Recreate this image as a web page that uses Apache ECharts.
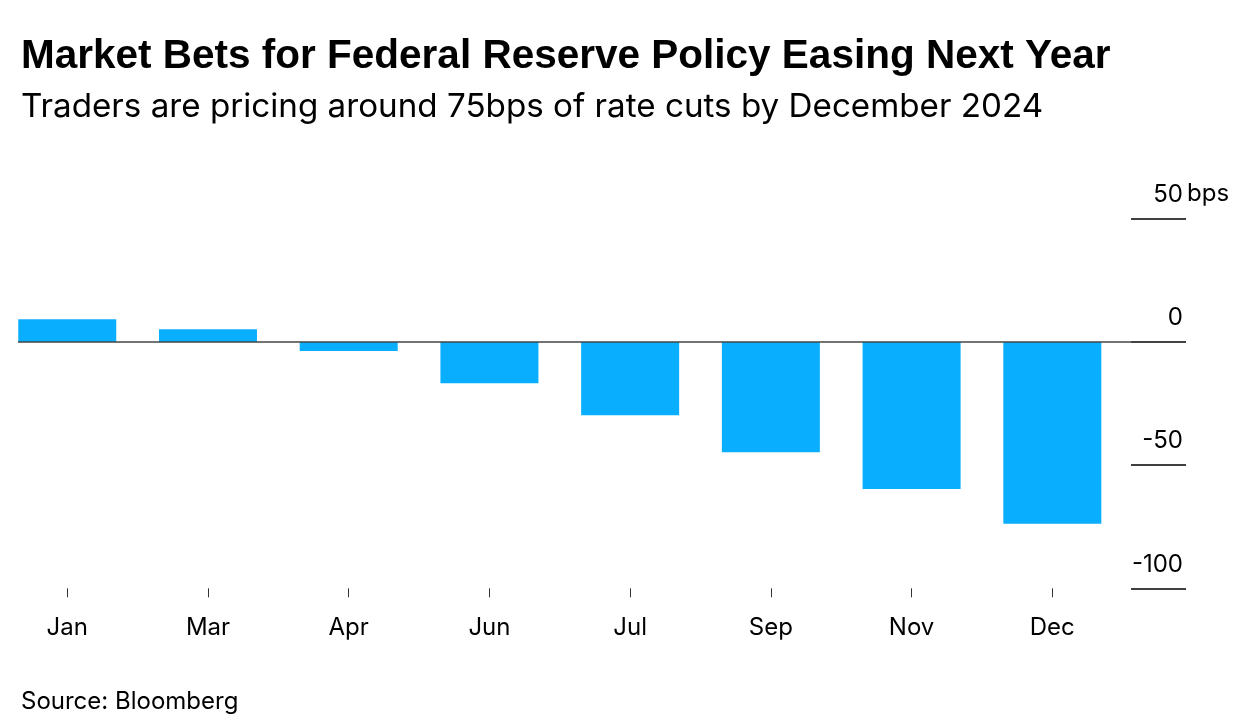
<!DOCTYPE html>
<html>
<head>
<meta charset="utf-8">
<script src="https://cdn.jsdelivr.net/npm/echarts@6/dist/echarts.min.js"></script>
<style>html,body{margin:0;padding:0;background:#fff}#c{width:1258px;height:720px}</style>
</head>
<body>
<div id="c"></div>
<script>
const categories = ['Jan', 'Mar', 'Apr', 'Jun', 'Jul', 'Sep', 'Nov', 'Dec'];
const values = [9.3, 5.2, -3.6, -16.7, -29.7, -44.7, -59.7, -73.8];
const yTicks = [-100, -50, 0, 50];

const TFONT = '"Liberation Sans", Arial, sans-serif';
const FONT = 'Inter, "Liberation Sans", Arial, sans-serif';
const chart = echarts.init(document.getElementById('c'), null, {renderer: 'canvas'});
const idx = categories.map((_, i) => i);

chart.setOption({
  animation: false,
  backgroundColor: '#fff',
  title: [
    {text: 'Market Bets for Federal Reserve Policy Easing Next Year', left: 16, top: 31,
     textStyle: {fontFamily: TFONT, fontSize: 40.5, fontWeight: 'bold', color: '#000'}},
    {text: 'Traders are pricing around 75bps of rate cuts by December 2024', left: 16, top: 86,
     textStyle: {fontFamily: FONT, fontSize: 33.2, fontWeight: 'normal', color: '#000'}},
    {text: 'Source: Bloomberg', left: 16, top: 685,
     textStyle: {fontFamily: FONT, fontSize: 24, fontWeight: 'normal', color: '#000'}}
  ],
  grid: [
    {left: 18, right: 72, top: 219, bottom: 131.7},
    {left: 1131, right: 72, top: 219, bottom: 131.7}
  ],
  xAxis: [
    {gridIndex: 0, type: 'value', min: -0.35, max: 7.95,
     axisLine: {show: false, onZero: false}, splitLine: {show: false},
     axisTick: {show: true, length: 9, customValues: idx, lineStyle: {color: '#333', width: 1}},
     axisLabel: {customValues: idx, margin: 27, formatter: v => categories[Math.round(v)],
       fontFamily: FONT, fontSize: 24, color: '#000'}},
    {gridIndex: 1, type: 'value', show: false}
  ],
  yAxis: [
    {gridIndex: 0, type: 'value', min: -100, max: 50, interval: 50, show: false},
    {gridIndex: 1, type: 'value', min: -100, max: 50, interval: 50, position: 'right',
     axisLine: {show: false}, axisTick: {show: false},
     splitLine: {show: true, lineStyle: {color: '#000', width: 1.5}},
     name: 'bps', nameLocation: 'end', nameGap: 25,
     nameTextStyle: {fontFamily: FONT, fontSize: 24, color: '#000', align: 'left', verticalAlign: 'middle', padding: [0, 0, 0, 56]},
     axisLabel: {inside: true, margin: 3, verticalAlign: 'bottom', padding: [0, 0, 12, 0],
       fontFamily: FONT, fontSize: 24, color: '#000'}}
  ],
  series: [{
    type: 'bar', xAxisIndex: 0, yAxisIndex: 0,
    data: values.map((v, i) => [i, v]),
    barWidth: 98,
    itemStyle: {color: '#0aaeff'},
    markLine: {silent: true, symbol: 'none', label: {show: false},
      lineStyle: {color: '#444', width: 1.5, type: 'solid'},
      data: [{yAxis: 0}]}
  }]
});
</script>
</body>
</html>
